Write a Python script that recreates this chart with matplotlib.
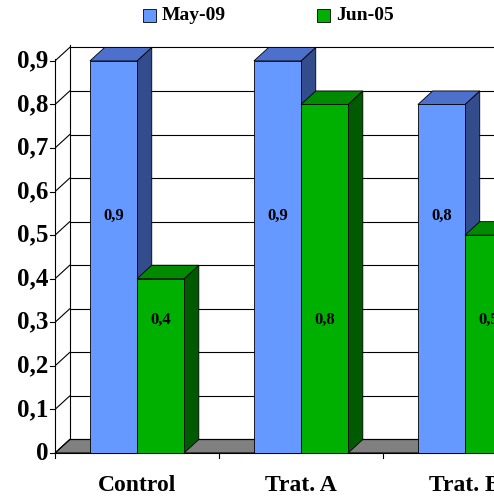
import matplotlib
matplotlib.use("Agg")
import matplotlib.pyplot as plt
from matplotlib.patches import Polygon

categories = ["Control", "Trat. A", "Trat. B"]
may09 = [0.9, 0.9, 0.8]
jun05 = [0.4, 0.8, 0.5]
labels_may = ["0,9", "0,9", "0,8"]
labels_jun = ["0,4", "0,8", "0,5"]
yticks = [0, 0.1, 0.2, 0.3, 0.4, 0.5, 0.6, 0.7, 0.8, 0.9]

fig = plt.figure(figsize=(4.94, 5), dpi=100)
ax = fig.add_axes([55/494, 47/500, 1-55/494, (453-40)/500])
ax.set_xlim(-0.5, 2.177)
ax.set_ylim(0, 0.948)
ax.axis("off")
font = dict(family="Liberation Serif", weight="bold")

dx, dy = 0.09, 0.031
w = 0.287
L, R = -0.5, 2.3
ax.add_patch(Polygon([(L,0),(R,0),(R+dx,dy),(L+dx,dy)], closed=True, fc="#808080", ec="black", lw=0.8, clip_on=False))
top = 0.9+dy+0.005
for t in yticks:
    ax.plot([L+dx, R], [t+dy, t+dy], color="black", lw=0.8, clip_on=False)
ax.plot([L+dx, L+dx], [dy, top], color="black", lw=0.8)
ax.plot([L, L], [0, top-dy], color="black", lw=0.8, clip_on=False)
for t in yticks:
    ax.plot([L, L+dx], [t, t+dy], color="black", lw=0.8)
    ax.plot([L-0.03, L], [t, t], color="black", lw=0.8, clip_on=False)
    ax.text(L-0.04, t, ("%.1f" % t).replace(".", ",") if t else "0", ha="right", va="center", fontsize=18, clip_on=False, **font)
ax.plot([L, R], [0, 0], color="black", lw=0.8, clip_on=False)
for i in range(4):
    ax.plot([i-0.5, i-0.5], [0, -0.012], color="black", lw=0.8, clip_on=False)

def bar3d(x0, h, front, side, topc):
    ax.add_patch(Polygon([(x0+w,0),(x0+w+dx,dy),(x0+w+dx,h+dy),(x0+w,h)], fc=side, ec="black", lw=0.6, zorder=3))
    ax.add_patch(Polygon([(x0,h),(x0+w,h),(x0+w+dx,h+dy),(x0+dx,h+dy)], fc=topc, ec="black", lw=0.6, zorder=3))
    ax.add_patch(Polygon([(x0,0),(x0+w,0),(x0+w,h),(x0,h)], fc=front, ec="black", lw=0.6, zorder=3))

for i, (a, b) in enumerate(zip(may09, jun05)):
    bar3d(i-w, a, "#6699FF", "#334C8C", "#4D70CC")
    bar3d(i, b, "#00B000", "#005A00", "#008A00")
    ax.text(i-w/2, 0.545, labels_may[i], ha="center", va="center", fontsize=12, zorder=4, **font)
    ax.text(i+w/2, 0.305, labels_jun[i], ha="center", va="center", fontsize=12, zorder=4, **font)
    ax.text(i, -0.05, categories[i], ha="center", va="top", fontsize=17, clip_on=False, **font)

for xp, col, lab in [(143, "#6699FF", "May-09"), (317, "#00B000", "Jun-05")]:
    fig.patches.append(plt.Rectangle((xp/494, 1-22/500), 13/494, 13/500, transform=fig.transFigure, fc=col, ec="black", lw=0.6))
    fig.text((xp+19)/494, 1-15/500, lab, ha="left", va="center", fontsize=14, **font)

fig.savefig("out.png", dpi=100)
